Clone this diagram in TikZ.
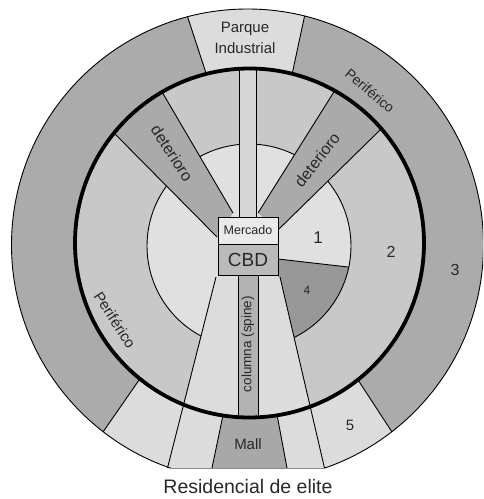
\documentclass[tikz,border=0pt]{standalone}
\usepackage{fontspec}
\setmainfont{Liberation Sans}
\definecolor{cthree}{RGB}{171,171,171}
\definecolor{ctwo}{RGB}{200,200,200}
\definecolor{cone}{RGB}{224,224,224}
\definecolor{cfour}{RGB}{152,152,152}
\definecolor{clight}{RGB}{220,220,220}
\definecolor{cdet}{RGB}{170,170,170}
\definecolor{cmall}{RGB}{168,168,168}
\definecolor{ccbd}{RGB}{186,186,186}
\definecolor{cmerc}{RGB}{234,234,234}
\definecolor{cspine}{RGB}{178,178,178}
\definecolor{cstrip}{RGB}{214,214,214}
\definecolor{ctxt}{RGB}{40,40,40}
\newcommand\myfs[1]{\fontsize{#1}{#1}\selectfont}
\begin{document}
\begin{tikzpicture}[x=1pt,y=-1pt,
  lin/.style={line width=0.9pt, draw=black},
  chordline/.style={line width=0.9pt, draw=black!45},
  boxnode/.style={draw=black, line width=1pt, inner sep=0pt, minimum width=60pt, text=ctxt},
  lbl/.style={inner sep=0pt, text=ctxt}]
\useasboundingbox (0,0) rectangle (483,499);
\fill[white] (0,0) rectangle (483,499);
\coordinate (O) at (247.5,245);
\coordinate (T) at (249.5,243);
\coordinate (I) at (249,246);
% outer ring
\begin{scope}
  \clip (0,0) rectangle (483,468);
  \clip (O) circle[radius=236];
  \fill[cthree] (O) circle[radius=236];
  \fill[clight] (188,309.5) -- (69,481) -- (424,481) -- (312,309.5) -- cycle;
  \draw[lin] (188,309.5) -- (69,481);
  \draw[lin] (312,309.5) -- (424,481);
  \fill[clight] (178,-12.5) -- (311,-14) -- (287,98) -- (214,97.5) -- cycle;
  \draw[lin] (178,-12.5) -- (214,97.5);
  \draw[lin] (311,-14) -- (287,98);
  \fill[cmall] (227,396) -- (207,492) -- (291.5,492) -- (273.5,396) -- cycle;
  \draw[lin] (227,396) -- (207,492);
  \draw[lin] (273.5,396) -- (291.5,492);
\end{scope}
% inside thick circle
\begin{scope}
  \clip (T) circle[radius=174.5];
  \fill[ctwo] (T) circle[radius=174.5];
  \fill[cone] (I) circle[radius=102];
  \begin{scope}
    \clip (I) circle[radius=102];
    \fill[cfour] (278,259) -- (418,275) -- (418,420) -- (313.3,420) -- (280,277) -- (278,277) -- cycle;
    \draw[lin] (278,259) -- (418,275);
  \end{scope}
  \draw[lin] (I) circle[radius=102];
  \fill[cdet] (217,237) -- (233,213) -- (131,39) -- (68.5,87) -- cycle;
  \draw[lin] (233,213) -- (131,39);
  \draw[lin] (217,237) -- (68.5,87);
  \fill[cdet] (258,213) -- (278,230) -- (426.5,84.5) -- (369,36) -- cycle;
  \draw[lin] (258,213) -- (369,36);
  \draw[lin] (278,230) -- (426.5,84.5);
  \fill[clight] (216,277) -- (167.5,468) -- (324.5,468) -- (280,277) -- cycle;
  \fill[cstrip] (239,60) rectangle (256,217);
  \draw[lin] (239,60) -- (239,217);
  \draw[lin] (256,60) -- (256,217);
  \filldraw[fill=cspine, lin] (238,275) rectangle (258,430);
\end{scope}
\draw[lin] (216,277) -- (167.5,468);
\draw[lin] (280,277) -- (324.5,468);
\draw[line width=3.8pt] (T) circle[radius=174.5];
\begin{scope}
  \clip (0,0) rectangle (483,468);
  \draw[lin] (O) circle[radius=236];
\end{scope}
\draw[chordline] (170,468) -- (325,468);
% boxes
\node[boxnode, fill=cmerc, minimum height=27pt, font=\myfs{12.5}] (merc) at (248,230.5) {Mercado};
\node[boxnode, fill=ccbd, minimum height=31pt, font=\myfs{19}] (cbd) at (248,259.5) {CBD};
% labels
\node[lbl, font=\myfs{15}] (parque) at (245,29) {Parque};
\node[lbl, font=\myfs{15}] (indus) at (245,48) {Industrial};
\node[lbl, font=\myfs{17}] (n1) at (318,238) {1};
\node[lbl, font=\myfs{16}] (n2) at (391,252) {2};
\node[lbl, font=\myfs{16}] (n3) at (455,270) {3};
\node[lbl, font=\myfs{12}] (n4) at (307,290) {4};
\node[lbl, font=\myfs{15}] (n5) at (350,425) {5};
\node[lbl, font=\myfs{15}] (mall) at (248,444) {Mall};
\node[lbl, font=\myfs{19.5}] (elite) at (248,487) {Residencial de elite};
\node[lbl, font=\myfs{16}, rotate=-57] (detl) at (172,153) {deterioro};
\node[lbl, font=\myfs{16}, rotate=52] (detr) at (317,160) {deterioro};
\node[lbl, font=\myfs{14}, rotate=-40] (perr) at (370,91) {Periférico};
\node[lbl, font=\myfs{15}, rotate=-57] (perl) at (115,320) {Periférico};
\node[lbl, font=\myfs{13.5}, rotate=90] (spine) at (248,344) {columna (spine)};
\end{tikzpicture}
\end{document}
